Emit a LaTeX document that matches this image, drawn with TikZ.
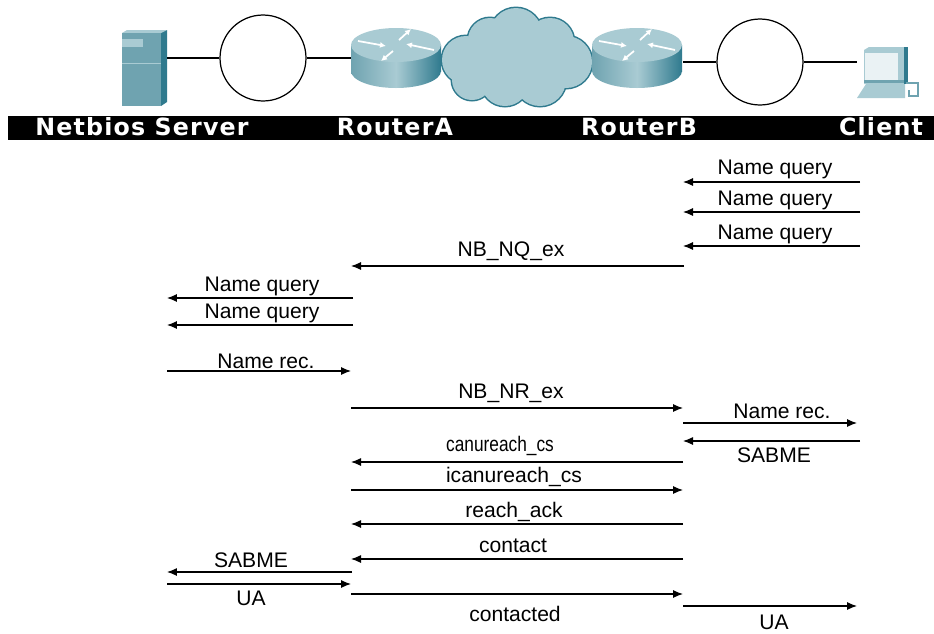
\documentclass[tikz,border=0pt]{standalone}
\usepackage{fontspec}
\setmainfont{Liberation Sans}
\newfontfamily\headfont[LetterSpace=5]{DejaVu Sans}
\usetikzlibrary{arrows.meta}
\definecolor{teallight}{HTML}{A9CBD3}
\definecolor{tealmid}{HTML}{6FA3B0}
\definecolor{tealdark}{HTML}{2F7A8E}
\tikzset{
  msg/.style={-{Latex[length=2mm,width=1.6mm]},line width=0.6pt},
  msgtext/.style={font=\fontsize{12}{14}\selectfont,inner sep=0pt,yshift=-0.04cm},
  headtext/.style={font=\headfont\bfseries\fontsize{13.5}{14}\selectfont,text=white,inner sep=0pt},
  ring/.style={circle,draw,line width=0.7pt,minimum size=1.72cm,inner sep=0pt},
  link/.style={line width=0.7pt},
  router/.pic={
    \shade[left color=tealmid,right color=tealdark,middle color=teallight] (-45,0) rectangle (45,26);
    \shade[left color=tealmid,right color=tealdark,middle color=teallight] (0,26) ellipse[x radius=45,y radius=17];
    \fill[teallight] (0,0) ellipse[x radius=45,y radius=17];
    \draw[white,line width=1pt,-{Latex[length=1.2mm,width=1.2mm]}] (-38,-4) -- (-10,1);
    \draw[white,line width=1pt,-{Latex[length=1.2mm,width=1.2mm]}] (38,5) -- (10,-1);
    \draw[white,line width=1pt,-{Latex[length=1.2mm,width=1.2mm]}] (3,-5) -- (15,-16);
    \draw[white,line width=1pt,-{Latex[length=1.2mm,width=1.2mm]}] (-3,6) -- (-15,16);
  }
}
\begin{document}
\begin{tikzpicture}[x=0.02cm,y=-0.02cm]
    \useasboundingbox (0,0) rectangle (934,633);
    % header bar
    \fill[black] (8,116) rectangle (934,140);
    \node[headtext] (nameserver) at (142,127) {Netbios Server};
    \node[headtext] (namea) at (395,127) {RouterA};
    \node[headtext] (nameb) at (639,127) {RouterB};
    \node[headtext] (nameclient) at (881,127) {Client};
    % cloud
    \foreach \cx/\cy/\cr in {466/60/24,490/40/22,516/34/26,550/42/24,566/62/26,540/80/26,505/82/24,472/80/20}
      \fill[tealdark] (\cx,\cy) circle[radius=\cr+1.5];
    \foreach \cx/\cy/\cr in {466/60/24,490/40/22,516/34/26,550/42/24,566/62/26,540/80/26,505/82/24,472/80/20}
      \fill[teallight] (\cx,\cy) circle[radius=\cr];
    \fill[teallight] (480,45) rectangle (550,80);
    % devices
    \fill[tealdark] (161,30) -- (167,30) -- (167,102) -- (161,106) -- cycle;
    \fill[teallight] (122,33) -- (127,30) -- (167,30) -- (161,33) -- cycle;
    \node[fill=tealmid,inner sep=0pt,minimum width=0.78cm,minimum height=1.46cm] (server) at (141.5,69.5) {};
    \fill[teallight] (122,39) rectangle (143,47);
    \draw[teallight] (122,63) -- (161,63);
    \pic at (396,45) {router};
    \coordinate (routerA) at (351,58);
    \pic at (637,45) {router};
    \coordinate (routerB) at (683,62);
    \node[ring] (ringleft) at (263,58) {};
    \node[ring] (ringright) at (760,62) {};
    % client
    \fill[teallight] (864,50) -- (869,47) -- (905,47) -- (905,84) -- (864,84) -- cycle;
    \fill[tealdark] (904,47) -- (908,47) -- (908,84) -- (904,84) -- cycle;
    \node[fill=white!75!teallight,inner sep=0pt,minimum width=0.66cm,minimum height=0.54cm] (client) at (881,66) {};
    \fill[tealmid] (864,80) rectangle (904,83);
    \fill[teallight] (857,98) -- (866,84) -- (905,84) -- (905,98) -- cycle;
    \draw[tealmid,line width=1pt] (906,83) -- (918,83) -- (918,96) -- (909,96) -- (909,90);
    % links
    \coordinate (serverport) at (167,58);
    \draw[link] (serverport) -- (ringleft.west);
    \draw[link] (ringleft.east) -- (routerA);
    \draw[link] (routerB) -- (ringright.west);
    \coordinate (clientport) at (857,62);
    \draw[link] (ringright.east) -- (clientport);
    % messages
    \coordinate (c1) at (860,182); \coordinate (b1) at (683,182);
    \draw[msg] (c1) -- (b1);
    \node[msgtext] (t1) at (775,167) {Name query};
    \coordinate (c2) at (860,212); \coordinate (b2) at (683,212);
    \draw[msg] (c2) -- (b2);
    \node[msgtext] (t2) at (775,198) {Name query};
    \coordinate (c3) at (860,246); \coordinate (b3) at (683,246);
    \draw[msg] (c3) -- (b3);
    \node[msgtext] (t3) at (775,232) {Name query};
    \coordinate (b4) at (684,266); \coordinate (a4) at (351,266);
    \draw[msg] (b4) -- (a4);
    \node[msgtext] (t4) at (511,249) {NB\_NQ\_ex};
    \coordinate (a5) at (353,298); \coordinate (s5) at (167,298);
    \draw[msg] (a5) -- (s5);
    \node[msgtext] (t5) at (262,284) {Name query};
    \coordinate (a6) at (353,325); \coordinate (s6) at (167,325);
    \draw[msg] (a6) -- (s6);
    \node[msgtext] (t6) at (262,311) {Name query};
    \coordinate (s7) at (167,371); \coordinate (a7) at (351,371);
    \draw[msg] (s7) -- (a7);
    \node[msgtext] (t7) at (266,359) {Name rec.};
    \coordinate (a8) at (351,408); \coordinate (b8) at (683,408);
    \draw[msg] (a8) -- (b8);
    \node[msgtext] (t8) at (511,391) {NB\_NR\_ex};
    \coordinate (b9) at (683,423); \coordinate (c9) at (857,423);
    \draw[msg] (b9) -- (c9);
    \node[msgtext] (t9) at (782,409) {Name rec.};
    \coordinate (c10) at (860,441); \coordinate (b10) at (683,441);
    \draw[msg] (c10) -- (b10);
    \node[msgtext] (t10) at (774,453) {SABME};
    \coordinate (b11) at (683,462); \coordinate (a11) at (351,462);
    \draw[msg] (b11) -- (a11);
    \node[msgtext,xscale=0.82] (t11) at (500,444) {canureach\_cs};
    \coordinate (a12) at (351,490); \coordinate (b12) at (683,490);
    \draw[msg] (a12) -- (b12);
    \node[msgtext] (t12) at (514,475) {icanureach\_cs};
    \coordinate (b13) at (683,524); \coordinate (a13) at (351,524);
    \draw[msg] (b13) -- (a13);
    \node[msgtext] (t13) at (514,510) {reach\_ack};
    \coordinate (b14) at (683,559); \coordinate (a14) at (351,559);
    \draw[msg] (b14) -- (a14);
    \node[msgtext] (t14) at (513,544) {contact};
    \coordinate (a15) at (352,572); \coordinate (s15) at (167,572);
    \draw[msg] (a15) -- (s15);
    \node[msgtext] (t15) at (251,558) {SABME};
    \coordinate (s16) at (167,584); \coordinate (a16) at (351,584);
    \draw[msg] (s16) -- (a16);
    \node[msgtext] (t16) at (251,596) {UA};
    \coordinate (a17) at (351,594); \coordinate (b17) at (683,594);
    \draw[msg] (a17) -- (b17);
    \node[msgtext] (t17) at (515,612) {contacted};
    \coordinate (b18) at (683,606); \coordinate (c18) at (857,606);
    \draw[msg] (b18) -- (c18);
    \node[msgtext] (t18) at (774,620) {UA};
\end{tikzpicture}
\end{document}
